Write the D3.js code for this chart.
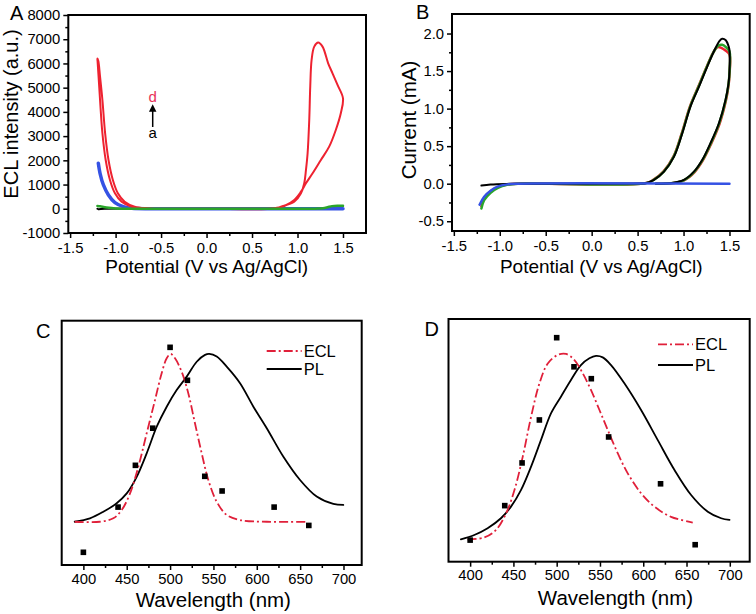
<!DOCTYPE html>
<html><head><meta charset="utf-8">
<script src="https://cdn.jsdelivr.net/npm/d3@7"></script>
<style>
body{margin:0;background:#fff}
svg{display:block}
text{font-family:"Liberation Sans",Arial,Helvetica,sans-serif;fill:#000}
</style>
</head><body>
<svg id="chart" width="756" height="614"></svg>
<script>
// ---------------- DATA ----------------
// Panel A: ECL intensity (a.u.) vs potential (V)
const aBlack = [[-1.2,0],[-1.19,-15],[-1.12,0],[0,0],[1.5,0]];
const aBlue = [[-1.19,1880],[-1.171,1466],[-1.134,983],[-1.079,570],[-1.007,252],[-0.915,87],[-0.82,20],[-0.6,3],[0,0],[1.5,0]];
const aRed = [[0.0,0],[-0.55,5],[-0.65,20],[-0.79,87],[-0.9,293],[-0.975,640],[-1.03,1189],[-1.078,2015],[-1.115,3117],[-1.145,4492],[-1.172,5500],[-1.19,6100],[-1.2,6200],
  [-1.198,6080],[-1.188,5500],[-1.171,4492],[-1.145,3117],[-1.109,2015],[-1.062,1189],[-1.007,640],[-0.934,293],[-0.824,87],[-0.68,20],[-0.56,4],[0.0,0],
  [0.75,10],[0.819,87],[0.964,293],[1.038,640],[1.074,1053],[1.093,1602],[1.111,2291],[1.129,3666],[1.14,5041],[1.155,6144],[1.184,6693],[1.227,6860],[1.275,6693],[1.337,6007],[1.385,5594],[1.44,5111],[1.5,4562],
  [1.476,3943],[1.421,3253],[1.348,2564],[1.257,2015],[1.166,1466],[1.093,1053],[1.038,706],[0.964,363],[0.855,116],[0.745,20],[0.6,5],[0.0,0]];
const aGreen = [[-1.2,115],[-1.17,100],[-1.1,55],[-1.0,15],[-0.8,5],[0,5],[1.2,5],[1.28,20],[1.33,60],[1.38,110],[1.44,125],[1.5,120]];

// Panel B: current (mA) vs potential (V)
const bRed = [[-1.2,-0.30],[-1.17,-0.19],[-1.1,-0.10],[-1.02,-0.045],[-0.92,-0.012],[-0.8,0],[0.58,0.005],[0.67,0.05],[0.78,0.16],[0.89,0.36],[0.98,0.67],[1.07,1.03],[1.16,1.29],[1.25,1.55],[1.32,1.74],[1.37,1.82],[1.41,1.81],[1.46,1.77],[1.5,1.72],[1.5,1.45],[1.49,1.31],[1.46,1.10],[1.39,0.79],[1.30,0.53],[1.21,0.31],[1.12,0.155],[1.01,0.048],[0.87,0.005],[0.7,0]];
const bGreen = [[-1.2,-0.33],[-1.17,-0.22],[-1.1,-0.12],[-1.02,-0.055],[-0.92,-0.015],[-0.8,0],[0.585,0.005],[0.675,0.05],[0.785,0.16],[0.893,0.36],[0.983,0.67],[1.073,1.03],[1.163,1.29],[1.255,1.56],[1.325,1.75],[1.38,1.84],[1.42,1.85],[1.46,1.82],[1.5,1.76],[1.5,1.48],[1.49,1.33],[1.458,1.11],[1.387,0.80],[1.296,0.535],[1.206,0.313],[1.116,0.158],[1.006,0.049],[0.862,0.005],[0.7,0]];
const bBlack = [[-1.2,-0.025],[-1.1,-0.01],[-0.9,-0.002],[-0.5,0],[0.5,0.002],[0.587,0.005],[0.678,0.05],[0.787,0.16],[0.896,0.36],[0.986,0.67],[1.076,1.03],[1.167,1.29],[1.258,1.56],[1.33,1.76],[1.39,1.90],[1.42,1.93],[1.46,1.91],[1.49,1.83],[1.5,1.78],[1.5,1.5],[1.49,1.34],[1.457,1.116],[1.385,0.805],[1.293,0.54],[1.203,0.316],[1.113,0.16],[1.004,0.05],[0.859,0.005],[0.7,0]];
const bBlue = [[-1.22,-0.28],[-1.17,-0.173],[-1.1,-0.093],[-1.025,-0.04],[-0.916,-0.009],[-0.81,0],[1.5,0]];

// Panel C: wavelength (nm) vs normalized intensity
const cPoints = [[400,5.2],[440,23.7],[460,40.8],[480,56.0],[500,89.1],[520,75.6],[540,36.3],[560,30.3],[620,23.7],[660,16.2]];
const cECL = [[390,17.7],[419,17.7],[434.5,19.1],[444.2,22.5],[453.8,29.3],[463.4,40.2],[473,53.9],[482.6,67.5],[490.3,78.5],[496.1,84.6],[500.7,86.4],[505.7,84.6],[513.4,79.1],[521,70.3],[528.7,58.0],[536.5,45.7],[544.1,34.8],[553.8,25.9],[565.3,20.5],[580.7,18.4],[611.5,17.7],[659.4,17.7]];
const cPL = [[390,17.7],[407.6,19.1],[423,21.8],[438.4,25.3],[450,29.3],[461.5,36.1],[473,45.7],[484.6,56.6],[496.1,64.8],[507.6,71.6],[519.2,77.1],[530.7,83.2],[540.3,86.0],[545.2,86.4],[553.8,85.3],[565.3,81.2],[580.7,74.4],[596.1,64.8],[611.5,56.0],[630.7,44.3],[649.9,34.8],[669.1,28.0],[688.3,25.0],[699.8,24.6]];

// Panel D
const dPoints = [[400,8.9],[440,23.1],[460,40.7],[480,58.4],[500,92.3],[520,80.3],[540,75.4],[560,51.4],[620,32.1],[660,7.0]];
const dECL = [[397,9.2],[416.5,10.0],[429.9,13.1],[441.5,19.9],[451.2,29.5],[460.8,43.3],[470.4,59.7],[480.1,73.5],[489.7,81.7],[501.2,85.2],[510.8,85.6],[520.5,83.1],[530.1,77.6],[539.7,70.7],[549.4,62.5],[559,54.3],[570.5,44.7],[582.1,36.4],[597.5,28.2],[612.9,22.7],[632.1,18.5],[657.2,16.1]];
const dPL = [[389.3,9.2],[404.8,11.0],[420.2,13.8],[435.6,17.9],[447.2,22.7],[458.7,29.5],[470.3,39.1],[481.8,50.1],[493.4,61.1],[504.9,68.0],[516.5,74.9],[528,81.0],[537.8,83.8],[545.4,84.8],[553.2,84.2],[562.8,81.0],[578.2,73.5],[597.5,62.5],[616.8,50.1],[636.1,37.8],[655.3,27.5],[674.6,20.6],[690,17.9],[699.7,17.2]];

// Ticks
const potTicks = [-1.5,-1.0,-0.5,0.0,0.5,1.0,1.5];
const potMinor = [-1.25,-0.75,-0.25,0.25,0.75,1.25];
const eclTicks = [-1000,0,1000,2000,3000,4000,5000,6000,7000,8000];
const eclMinor = [-500,500,1500,2500,3500,4500,5500,6500,7500];
const curTicks = [-0.5,0.0,0.5,1.0,1.5,2.0];
const curMinor = [-0.25,0.25,0.75,1.25,1.75];
const wlTicks = [400,450,500,550,600,650,700];
const wlMinor = [425,475,525,575,625,675];

// ---------------- DRAW ----------------
const svg = d3.select("#chart");
const FONT = '"Liberation Sans",Arial,Helvetica,sans-serif';
const RED = "#ee2230", BLUE = "#3552e4", GREEN = "#2aa52a", DRED = "#e0203a";

function fmtNum(f){ return d => f(d).replace("\u2212","-"); }

function panel(o){
  const x = d3.scaleLinear().domain(o.xd).range([o.l,o.r]);
  const y = d3.scaleLinear().domain(o.yd).range([o.b,o.t]);
  const g = svg.append("g");
  g.append("g").attr("transform",`translate(0,${o.b})`)
    .call(d3.axisBottom(x).tickValues(o.xt).tickSize(5).tickPadding(o.xpad).tickFormat(fmtNum(o.xf)));
  g.append("g").attr("transform",`translate(0,${o.b})`)
    .call(d3.axisBottom(x).tickValues(o.xm).tickSize(3).tickFormat(""));
  if(o.yt){
    g.append("g").attr("transform",`translate(${o.l},0)`)
      .call(d3.axisLeft(y).tickValues(o.yt).tickSize(5).tickPadding(3).tickFormat(fmtNum(o.yf)));
    g.append("g").attr("transform",`translate(${o.l},0)`)
      .call(d3.axisLeft(y).tickValues(o.ym).tickSize(3).tickFormat(""));
  }
  g.selectAll(".domain").remove();
  g.selectAll(".tick line").attr("stroke","#000").attr("stroke-width",1.5);
  g.selectAll(".tick text").attr("font-size",14.8).attr("font-family",FONT).attr("fill","#000");
  const clipId = "clip"+o.id;
  svg.append("clipPath").attr("id",clipId).append("rect")
    .attr("x",o.l).attr("y",o.t).attr("width",o.r-o.l).attr("height",o.b-o.t);
  const plot = g.append("g").attr("clip-path",`url(#${clipId})`);
  g.append("rect").attr("x",o.l).attr("y",o.t).attr("width",o.r-o.l).attr("height",o.b-o.t)
    .attr("fill","none").attr("stroke","#000").attr("stroke-width",2);
  return {x,y,g,plot};
}

function line(p, data, color, w, dash){
  const gen = d3.line().x(d=>p.x(d[0])).y(d=>p.y(d[1])).curve(d3.curveCatmullRom.alpha(0.5));
  const path = p.plot.append("path").attr("d",gen(data)).attr("fill","none")
    .attr("stroke",color).attr("stroke-width",w).attr("stroke-linejoin","round").attr("stroke-linecap","round");
  if(dash) path.attr("stroke-dasharray",dash).attr("stroke-linecap","butt");
  return path;
}

// ---- Panel A ----
const A = panel({id:"A", l:68.3, r:366, t:15, b:233, xd:[-1.52,1.753], yd:[-1000,8000],
  xt:potTicks, xm:potMinor, xf:d3.format(".1f"), xpad:4, yt:eclTicks, ym:eclMinor, yf:d3.format("d")});
line(A, aBlack, "#000", 2);
line(A, aBlue, BLUE, 3.5);
line(A, aRed, RED, 2);
line(A, aGreen, GREEN, 2.5);
svg.append("text").attr("x",10).attr("y",19.5).attr("font-size",20).text("A");
svg.append("text").attr("x",206.7).attr("y",273).attr("text-anchor","middle").attr("font-size",19).text("Potential (V vs Ag/AgCl)");
svg.append("text").attr("transform","translate(17.5,114) rotate(-90)").attr("text-anchor","middle").attr("font-size",20).text("ECL intensity (a.u.)");
// annotation arrow a -> d
svg.append("defs").append("marker").attr("id","ah").attr("viewBox","0 0 10 10").attr("refX",5).attr("refY",5)
  .attr("markerWidth",5).attr("markerHeight",6).attr("orient","auto")
  .append("path").attr("d","M0,0 L10,5 L0,10 Z").attr("fill","#000");
svg.append("line").attr("x1",152.7).attr("y1",127).attr("x2",152.7).attr("y2",108).attr("stroke","#000").attr("stroke-width",1.5).attr("marker-end","url(#ah)");
svg.append("text").attr("x",152.7).attr("y",102).attr("text-anchor","middle").attr("font-size",15).style("fill","#e8325a").text("d");
svg.append("text").attr("x",152.7).attr("y",138).attr("text-anchor","middle").attr("font-size",15).text("a");

// ---- Panel B ----
const B = panel({id:"B", l:452, r:749.7, t:14, b:231, xd:[-1.52,1.72], yd:[-0.63,2.26],
  xt:potTicks, xm:potMinor, xf:d3.format(".1f"), xpad:4, yt:curTicks, ym:curMinor, yf:d3.format(".1f")});
line(B, bRed, RED, 2.5);
line(B, bGreen, GREEN, 2.5);
line(B, bBlack, "#000", 2);
line(B, bBlue, BLUE, 2.5);
svg.append("text").attr("x",416).attr("y",18.5).attr("font-size",20).text("B");
svg.append("text").attr("x",601.3).attr("y",273).attr("text-anchor","middle").attr("font-size",19).text("Potential (V vs Ag/AgCl)");
svg.append("text").attr("transform","translate(416,120) rotate(-90)").attr("text-anchor","middle").attr("font-size",20.5).text("Current (mA)");

// ---- Panel C & D ----
function spectrum(o, pts, ecl, pl, letter, lx, ly, legX, legY1, legY2, titleX, titleY){
  const P = panel(Object.assign({xt:wlTicks, xm:wlMinor, xf:d3.format("d"), xpad:3, yd:[0,100]}, o));
  line(P, pl, "#000", 1.8);
  line(P, ecl, DRED, 1.8, "9,3,2,3");
  P.plot.selectAll("rect.pt").data(pts).join("rect").attr("class","pt")
    .attr("x",d=>P.x(d[0])-2.8).attr("y",d=>P.y(d[1])-2.8).attr("width",5.6).attr("height",5.6).attr("fill","#000");
  svg.append("text").attr("x",lx).attr("y",ly).attr("font-size",20).text(letter);
  svg.append("line").attr("x1",legX).attr("x2",legX+35).attr("y1",legY1).attr("y2",legY1)
    .attr("stroke",DRED).attr("stroke-width",1.8).attr("stroke-dasharray","9,3,2,3");
  svg.append("text").attr("x",legX+37).attr("y",legY1+5.5).attr("font-size",16.5).text("ECL");
  svg.append("line").attr("x1",legX).attr("x2",legX+35).attr("y1",legY2).attr("y2",legY2)
    .attr("stroke","#000").attr("stroke-width",1.8);
  svg.append("text").attr("x",legX+37).attr("y",legY2+6).attr("font-size",16.5).text("PL");
  svg.append("text").attr("x",titleX).attr("y",titleY).attr("text-anchor","middle").attr("font-size",20.5).text("Wavelength (nm)");
}
spectrum({id:"C", l:61.7, r:361.7, t:320.7, b:565, xd:[375,721]}, cPoints, cECL, cPL, "C", 36, 337.5, 266.7, 351, 369, 213.3, 607);
spectrum({id:"D", l:448.5, r:749.7, t:319, b:561.7, xd:[375,723]}, dPoints, dECL, dPL, "D", 424.5, 335.5, 658, 344.3, 365, 615.5, 605);
</script>
</body></html>
